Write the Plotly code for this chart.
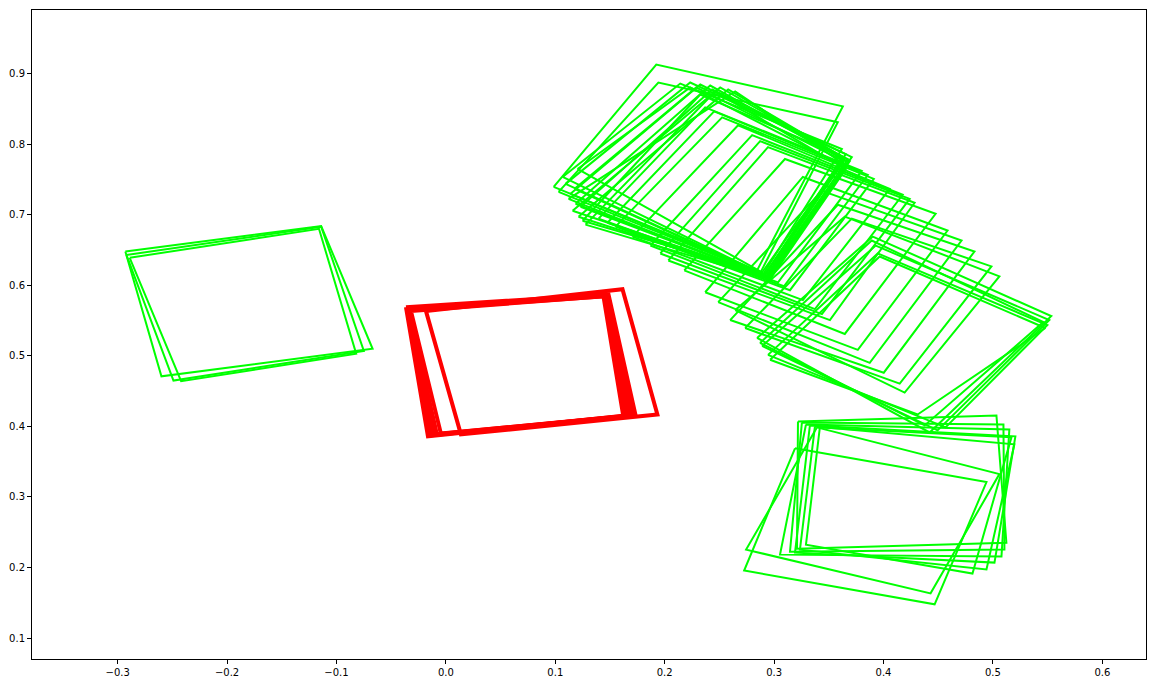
import plotly.graph_objects as go

# ---- data: each quad listed as 4 corner x values / 4 corner y values ----
left_quads_x = [
    [-0.293, -0.114, -0.067, -0.260],
    [-0.292, -0.114, -0.075, -0.249],
    [-0.289, -0.116, -0.082, -0.242],
]
left_quads_y = [
    [0.648, 0.684, 0.510, 0.471],
    [0.643, 0.683, 0.507, 0.465],
    [0.639, 0.680, 0.503, 0.464],
]

red_quads_x = [
    [-0.0365, 0.1486, 0.1732, -0.0164],
    [-0.0356, 0.1477, 0.1705, -0.0137],
    [-0.0347, 0.1468, 0.1677, -0.0109],
    [-0.0337, 0.1459, 0.1650, -0.0082],
    [-0.0319, 0.1440, 0.1622, -0.0046],
    [-0.0182, 0.1614, 0.1933, 0.0137],
]
red_quads_y = [
    [0.5690, 0.5873, 0.4169, 0.3859],
    [0.5676, 0.5859, 0.4155, 0.3873],
    [0.5662, 0.5859, 0.4155, 0.3887],
    [0.5648, 0.5845, 0.4141, 0.3887],
    [0.5634, 0.5845, 0.4141, 0.3901],
    [0.5634, 0.5944, 0.4169, 0.3887],
]

upper_quads_x = [
    [0.0985, 0.1923, 0.3628, 0.2844],
    [0.1030, 0.1942, 0.3582, 0.2871],
    [0.1094, 0.2233, 0.3655, 0.2917],
    [0.1139, 0.2325, 0.3674, 0.2935],
    [0.1185, 0.2416, 0.3674, 0.2944],
    [0.1158, 0.2507, 0.3646, 0.2926],
    [0.1212, 0.2580, 0.3692, 0.2954],
    [0.1249, 0.2325, 0.3628, 0.2917],
    [0.1203, 0.2233, 0.3601, 0.2890],
    [0.1276, 0.2461, 0.3655, 0.2963],
    [0.1067, 0.2142, 0.3619, 0.2899],
    [0.1121, 0.2644, 0.3665, 0.2944],
    [0.1231, 0.2434, 0.3710, 0.2935],
    [0.1176, 0.2288, 0.3637, 0.2908],
]
upper_quads_y = [
    [0.7394, 0.9127, 0.8535, 0.6211],
    [0.7324, 0.8873, 0.8310, 0.6169],
    [0.7437, 0.8873, 0.7859, 0.6141],
    [0.7296, 0.8845, 0.7789, 0.6127],
    [0.7155, 0.8831, 0.7746, 0.6113],
    [0.7056, 0.8803, 0.7789, 0.6127],
    [0.6972, 0.8775, 0.7761, 0.6099],
    [0.6915, 0.8704, 0.7817, 0.6155],
    [0.7648, 0.8803, 0.7718, 0.6183],
    [0.6859, 0.8746, 0.7648, 0.6085],
    [0.7535, 0.8859, 0.7930, 0.6155],
    [0.7225, 0.8746, 0.7690, 0.6099],
    [0.7113, 0.8775, 0.7817, 0.6113],
    [0.7366, 0.8803, 0.7761, 0.6141],
]

middle_quads_x = [
    [0.1395, 0.2370, 0.3801, 0.3036],
    [0.1477, 0.2452, 0.3856, 0.3090],
    [0.1550, 0.2525, 0.3911, 0.3145],
    [0.1705, 0.2671, 0.4057, 0.3263],
    [0.1869, 0.2799, 0.4175, 0.3373],
    [0.1960, 0.2872, 0.4239, 0.3437],
    [0.2033, 0.2944, 0.4284, 0.3510],
    [0.2179, 0.3099, 0.4476, 0.3646],
    [0.2370, 0.3263, 0.4585, 0.3765],
    [0.2489, 0.3437, 0.4713, 0.3874],
    [0.2598, 0.3582, 0.4831, 0.4002],
    [0.2735, 0.3710, 0.4986, 0.4148],
    [0.2644, 0.3646, 0.5059, 0.4193],
]
middle_quads_y = [
    [0.6944, 0.8521, 0.7620, 0.6042],
    [0.6887, 0.8465, 0.7563, 0.5986],
    [0.6831, 0.8380, 0.7507, 0.5930],
    [0.6690, 0.8268, 0.7366, 0.5789],
    [0.6563, 0.8127, 0.7282, 0.5662],
    [0.6451, 0.8042, 0.7225, 0.5592],
    [0.6352, 0.7958, 0.7169, 0.5507],
    [0.6211, 0.7789, 0.7014, 0.5310],
    [0.5901, 0.7535, 0.6775, 0.5085],
    [0.5761, 0.7338, 0.6634, 0.4901],
    [0.5507, 0.7141, 0.6479, 0.4761],
    [0.5394, 0.6944, 0.6268, 0.4606],
    [0.5648, 0.6972, 0.6127, 0.4479],
]

lower_quads_x = [
    [0.2844, 0.3902, 0.5533, 0.4421],
    [0.2944, 0.3947, 0.5497, 0.4567],
    [0.2890, 0.3929, 0.5515, 0.4494],
    [0.2963, 0.3965, 0.5479, 0.4312],
    [0.2871, 0.3892, 0.5460, 0.4376],
]
lower_quads_y = [
    [0.5254, 0.6690, 0.5563, 0.3915],
    [0.5014, 0.6451, 0.5437, 0.3986],
    [0.5141, 0.6563, 0.5507, 0.3944],
    [0.4944, 0.6408, 0.5394, 0.4169],
    [0.5183, 0.6634, 0.5479, 0.4014],
]

bottom_quads_x = [
    [0.3191, 0.4941, 0.4467, 0.2726],
    [0.3391, 0.5059, 0.4430, 0.2744],
    [0.3218, 0.5032, 0.5123, 0.3209],
    [0.3254, 0.5096, 0.5105, 0.3145],
    [0.3291, 0.5150, 0.5078, 0.3054],
    [0.3327, 0.5205, 0.5014, 0.3191],
    [0.3373, 0.5196, 0.4941, 0.3236],
    [0.3418, 0.5169, 0.4813, 0.3291],
]
bottom_quads_y = [
    [0.3690, 0.3211, 0.1479, 0.1958],
    [0.3986, 0.3324, 0.1634, 0.2254],
    [0.4070, 0.4155, 0.2352, 0.2268],
    [0.4056, 0.4028, 0.2254, 0.2225],
    [0.4028, 0.3958, 0.2155, 0.2183],
    [0.4014, 0.3859, 0.2070, 0.2211],
    [0.4000, 0.3746, 0.1972, 0.2254],
    [0.3986, 0.3845, 0.1915, 0.2324],
]

x_ticks = [-0.3, -0.2, -0.1, 0.0, 0.1, 0.2, 0.3, 0.4, 0.5, 0.6]
y_ticks = [0.1, 0.2, 0.3, 0.4, 0.5, 0.6, 0.7, 0.8, 0.9]


def closed_path(qx, qy):
    xs, ys = [], []
    for a, b in zip(qx, qy):
        xs += list(a) + [a[0], None]
        ys += list(b) + [b[0], None]
    return xs, ys


def fmt(v):
    s = f"{v:.1f}"
    return s.replace("-", "\u2212")


fig = go.Figure()
green_groups = [
    (left_quads_x, left_quads_y),
    (upper_quads_x, upper_quads_y),
    (middle_quads_x, middle_quads_y),
    (lower_quads_x, lower_quads_y),
    (bottom_quads_x, bottom_quads_y),
]
for qx, qy in green_groups:
    xs, ys = closed_path(qx, qy)
    fig.add_trace(go.Scatter(x=xs, y=ys, mode="lines",
                             line=dict(color="#00ff00", width=2),
                             hoverinfo="skip", showlegend=False))

xs, ys = closed_path(red_quads_x, red_quads_y)
fig.add_trace(go.Scatter(x=xs, y=ys, mode="lines",
                         line=dict(color="#ff0000", width=4),
                         hoverinfo="skip", showlegend=False))

axis_common = dict(showgrid=False, zeroline=False, showline=True, mirror=True,
                   linecolor="black", linewidth=1, ticks="outside", ticklen=4,
                   tickcolor="black", tickwidth=1,
                   tickfont=dict(family="DejaVu Sans", size=10, color="black"))

fig.update_layout(
    width=1156, height=687,
    margin=dict(l=30, r=9, t=10, b=24),
    plot_bgcolor="white", paper_bgcolor="white",
    xaxis=dict(range=[-0.3783, 0.6399], tickvals=x_ticks,
               ticktext=[fmt(v) for v in x_ticks], **axis_common),
    yaxis=dict(range=[0.0704, 0.9901], tickvals=y_ticks,
               ticktext=[fmt(v) for v in y_ticks], **axis_common),
)

fig.write_html("out.html")
